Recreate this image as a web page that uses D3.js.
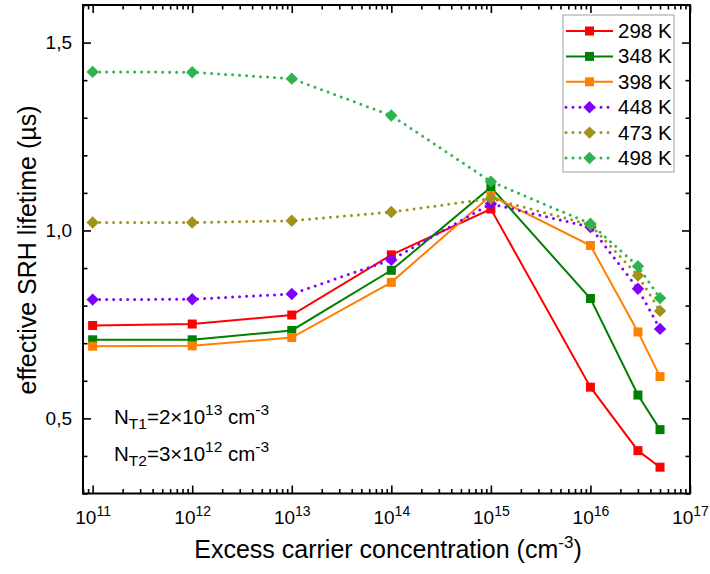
<!DOCTYPE html>
<html><head><meta charset="utf-8">
<script src="https://cdn.jsdelivr.net/npm/d3@7"></script>
<style>
body{margin:0;background:#fff;}
svg{font-family:"Liberation Sans",Arial,sans-serif;}
</style></head>
<body><svg id="c" width="710" height="574"></svg>
<script>
const conc = [1e11, 1e12, 1e13, 1e14, 1e15, 1e16, 3e16, 5e16];
const t298 = [0.747, 0.751, 0.775, 0.935, 1.057, 0.583, 0.414, 0.370];
const t348 = [0.709, 0.709, 0.734, 0.894, 1.115, 0.819, 0.562, 0.470];
const t398 = [0.692, 0.693, 0.715, 0.862, 1.093, 0.960, 0.730, 0.611];
const t448 = [0.816, 0.817, 0.831, 0.922, 1.071, 1.009, 0.845, 0.738];
const t473 = [1.021, 1.021, 1.026, 1.049, 1.085, 1.015, 0.880, 0.786];
const t498 = [1.422, 1.421, 1.404, 1.306, 1.130, 1.018, 0.905, 0.820];
const seriesNames = ["298 K", "348 K", "398 K", "448 K", "473 K", "498 K"];
const seriesColors = ["#ff0000", "#008000", "#ff8000", "#8000ff", "#a0921a", "#2db34f"];
const seriesMarkers = ["square", "square", "square", "diamond", "diamond", "diamond"];
const seriesDotted = [false, false, false, true, true, true];
const seriesValues = [t298, t348, t398, t448, t473, t498];
const xMajorTicks = [1e11, 1e12, 1e13, 1e14, 1e15, 1e16, 1e17];
const yMajorTicks = [0.5, 1.0, 1.5];
const yTickLabels = ["0,5", "1,0", "1,5"];

const L = 83, R = 690, T = 5, B = 493.5;
const svg = d3.select("#c");
const x = d3.scaleLog().domain([8e10, 1e17]).range([L, R]);
const y = d3.scaleLinear().domain([0.3, 1.6]).range([B, T]);

const xMinor = [];
for (let e = 10; e <= 16; e++) for (let m = 2; m <= 9; m++) { const v = m * Math.pow(10, e); if (v >= 8e10 && v <= 1e17) xMinor.push(v); }
const yMinor = d3.range(3, 17).map(v => v / 10).filter(v => !yMajorTicks.some(t => Math.abs(t - v) < 1e-9));

function styleAxis(g) {
  g.select(".domain").remove();
  g.selectAll(".tick line").attr("stroke", "#000").attr("stroke-width", 1.6);
}
// bottom
const gB = svg.append("g").attr("transform", `translate(0,${B})`);
gB.call(d3.axisBottom(x).tickValues(xMajorTicks).tickSizeInner(-8).tickSizeOuter(0).tickFormat(""));
styleAxis(gB);
gB.selectAll(".tick text").remove();
gB.selectAll(".tick").each(function(d) {
  const t = d3.select(this).append("text").attr("y", 30.5).attr("text-anchor", "middle").attr("fill", "#000")
    .attr("font-size", 19).attr("font-family", "Liberation Sans, Arial, sans-serif");
  t.append("tspan").text("10");
  t.append("tspan").attr("dy", -8).attr("font-size", 14).text(String(Math.round(Math.log10(d))));
});
const gBm = svg.append("g").attr("transform", `translate(0,${B})`);
gBm.call(d3.axisBottom(x).tickValues(xMinor).tickSizeInner(-4.5).tickSizeOuter(0).tickFormat(""));
styleAxis(gBm);
// top
const gT = svg.append("g").attr("transform", `translate(0,${T})`);
gT.call(d3.axisTop(x).tickValues(xMajorTicks).tickSizeInner(-8).tickSizeOuter(0).tickFormat(""));
styleAxis(gT);
const gTm = svg.append("g").attr("transform", `translate(0,${T})`);
gTm.call(d3.axisTop(x).tickValues(xMinor).tickSizeInner(-4.5).tickSizeOuter(0).tickFormat(""));
styleAxis(gTm);
// left
const gL = svg.append("g").attr("transform", `translate(${L},0)`);
gL.call(d3.axisLeft(y).tickValues(yMajorTicks).tickSizeInner(-8).tickSizeOuter(0).tickPadding(11).tickFormat((d, i) => yTickLabels[i]));
styleAxis(gL);
gL.selectAll(".tick text").attr("font-size", 19).attr("fill", "#000").attr("font-family", "Liberation Sans, Arial, sans-serif");
const gLm = svg.append("g").attr("transform", `translate(${L},0)`);
gLm.call(d3.axisLeft(y).tickValues(yMinor).tickSizeInner(-4.5).tickSizeOuter(0).tickFormat(""));
styleAxis(gLm);
// right
const gR = svg.append("g").attr("transform", `translate(${R},0)`);
gR.call(d3.axisRight(y).tickValues(yMajorTicks).tickSizeInner(-8).tickSizeOuter(0).tickFormat(""));
styleAxis(gR);
const gRm = svg.append("g").attr("transform", `translate(${R},0)`);
gRm.call(d3.axisRight(y).tickValues(yMinor).tickSizeInner(-4.5).tickSizeOuter(0).tickFormat(""));
styleAxis(gRm);

// frame
svg.append("rect").attr("x", L).attr("y", T).attr("width", R - L).attr("height", B - T)
  .attr("fill", "none").attr("stroke", "#000").attr("stroke-width", 2);

// series
const line = d3.line().x(d => x(d[0])).y(d => y(d[1]));
function drawMarker(g, type, cx, cy, color) {
  if (type === "square") {
    g.append("rect").attr("x", cx - 4.5).attr("y", cy - 4.5).attr("width", 9).attr("height", 9).attr("fill", color);
  } else {
    const s = 6.2;
    g.append("path").attr("d", `M${cx},${cy - s}L${cx + s},${cy}L${cx},${cy + s}L${cx - s},${cy}Z`).attr("fill", color);
  }
}
seriesValues.forEach((vals, i) => {
  const g = svg.append("g");
  const pts = conc.map((c, j) => [c, vals[j]]);
  const p = g.append("path").attr("d", line(pts)).attr("fill", "none").attr("stroke", seriesColors[i]).attr("stroke-width", 2);
  if (seriesDotted[i]) p.attr("stroke-width", 3).attr("stroke-dasharray", "0 7").attr("stroke-linecap", "round");
  pts.forEach(d => drawMarker(g, seriesMarkers[i], x(d[0]), y(d[1]), seriesColors[i]));
});

// legend
const lg = svg.append("g");
lg.append("rect").attr("x", 563).attr("y", 15).attr("width", 111).attr("height", 157)
  .attr("fill", "#fff").attr("stroke", "#a0a0a0").attr("stroke-width", 1);
seriesNames.forEach((n, i) => {
  const yy = 31 + i * 25.4;
  const p = lg.append("line").attr("x1", 566).attr("x2", 613).attr("y1", yy).attr("y2", yy)
    .attr("stroke", seriesColors[i]).attr("stroke-width", 2);
  if (seriesDotted[i]) p.attr("stroke-width", 3).attr("stroke-dasharray", "0 7").attr("stroke-linecap", "round");
  drawMarker(lg, seriesMarkers[i], 589.5, yy, seriesColors[i]);
  lg.append("text").attr("x", 618).attr("y", yy + 7).attr("font-size", 20.5).attr("fill", "#000").text(n);
});

// annotation
function annot(yb, sub, mant, exp) {
  const t = svg.append("text").attr("x", 114).attr("y", yb).attr("font-size", 20.5).attr("fill", "#000");
  t.append("tspan").text("N");
  t.append("tspan").attr("dy", 5).attr("font-size", 15.5).text(sub);
  t.append("tspan").attr("dy", -5).text("=" + mant + "\u00d710");
  t.append("tspan").attr("dy", -9).attr("font-size", 15.5).text(exp);
  t.append("tspan").attr("dy", 9).text(" cm");
  t.append("tspan").attr("dy", -9).attr("font-size", 15.5).text("-3");
}
annot(424, "T1", "2", "13");
annot(461, "T2", "3", "12");

// axis titles
const xt = svg.append("text").attr("x", 388).attr("y", 558).attr("text-anchor", "middle").attr("font-size", 25).attr("fill", "#000");
xt.append("tspan").text("Excess carrier concentration (cm");
xt.append("tspan").attr("dy", -10).attr("font-size", 17).text("-3");
xt.append("tspan").attr("dy", 10).text(")");
svg.append("text").attr("transform", "translate(36,250) rotate(-90)").attr("text-anchor", "middle")
  .attr("font-size", 25).attr("fill", "#000").text("effective SRH lifetime (\u00b5s)");
</script></body></html>
